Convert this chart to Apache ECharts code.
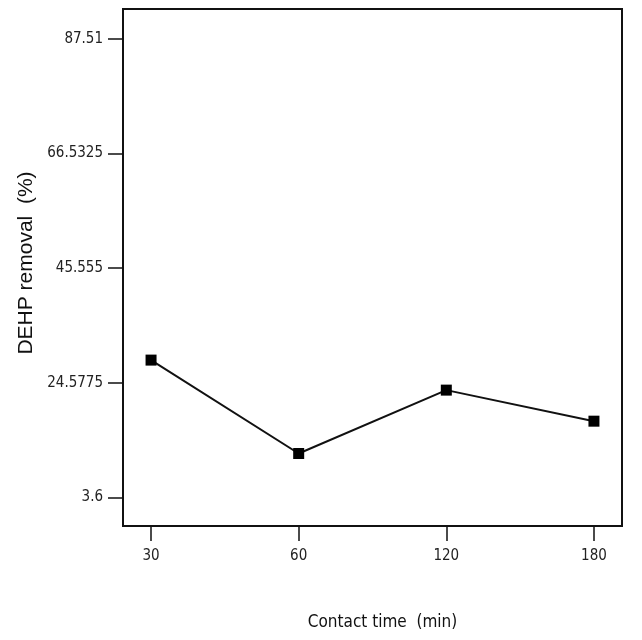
<!DOCTYPE html>
<html>
<head>
<meta charset="utf-8">
<script src="https://cdn.jsdelivr.net/npm/echarts@6/dist/echarts.min.js"></script>
<style>
  html, body { margin: 0; padding: 0; background: #fff; }
  #main { width: 642px; height: 640px; }
</style>
</head>
<body>
<div id="main"></div>
<script>
// 接触时间（分钟）
var categories = ['30', '60', '120', '180'];
// DEHP 去除率 (%)
var removal = [28.74, 11.66, 23.25, 17.57];
// y 轴刻度
var yTicks = [3.6, 24.5775, 45.555, 66.5325, 87.51];

var narrow = "'DejaVu Sans Condensed', 'Liberation Sans'";

var chart = echarts.init(document.getElementById('main'));

var points = removal.map(function (v, i) { return [i, v]; });

chart.setOption({
  animation: false,
  grid: {
    left: 123,
    right: 20,
    top: 9,
    bottom: 114,
    show: true,
    borderColor: '#111',
    borderWidth: 2,
    backgroundColor: '#fff'
  },
  xAxis: {
    type: 'value',
    min: -0.19,
    max: 3.19,
    name: 'Contact time  (min)',
    nameLocation: 'middle',
    nameGap: 88,
    nameTextStyle: { fontFamily: narrow, fontSize: 17, color: '#111', padding: [0, 0, 0, 20] },
    axisLine: { show: false, onZero: false },
    splitLine: { show: false },
    axisTick: {
      show: true, inside: false, length: 15,
      customValues: [0, 1, 2, 3],
      lineStyle: { color: '#111', width: 1.5 }
    },
    axisLabel: {
      customValues: [0, 1, 2, 3],
      margin: 23,
      fontFamily: narrow,
      fontSize: 15,
      color: '#222',
      formatter: function (v) { return categories[Math.round(v)]; }
    }
  },
  yAxis: {
    type: 'value',
    min: -1.6,
    max: 92.95,
    name: 'DEHP removal  (%)',
    nameLocation: 'middle',
    nameGap: 82,
    nameTextStyle: { fontFamily: 'Liberation Sans', fontSize: 21, color: '#111', padding: [0, 0, 0, 9] },
    axisLine: { show: false, onZero: false },
    splitLine: { show: false },
    axisTick: {
      show: true, length: 15,
      customValues: yTicks,
      lineStyle: { color: '#111', width: 1.5 }
    },
    axisLabel: {
      customValues: yTicks,
      margin: 20,
      fontFamily: narrow,
      fontSize: 15,
      color: '#222',
      formatter: function (v) {
        for (var i = 0; i < yTicks.length; i++) {
          if (Math.abs(yTicks[i] - v) < 1e-6) return String(yTicks[i]);
        }
        return '';
      }
    }
  },
  series: [{
    type: 'line',
    data: points,
    symbol: 'rect',
    symbolSize: 11,
    itemStyle: { color: '#000' },
    lineStyle: { color: '#111', width: 2 }
  }]
});
</script>
</body>
</html>
